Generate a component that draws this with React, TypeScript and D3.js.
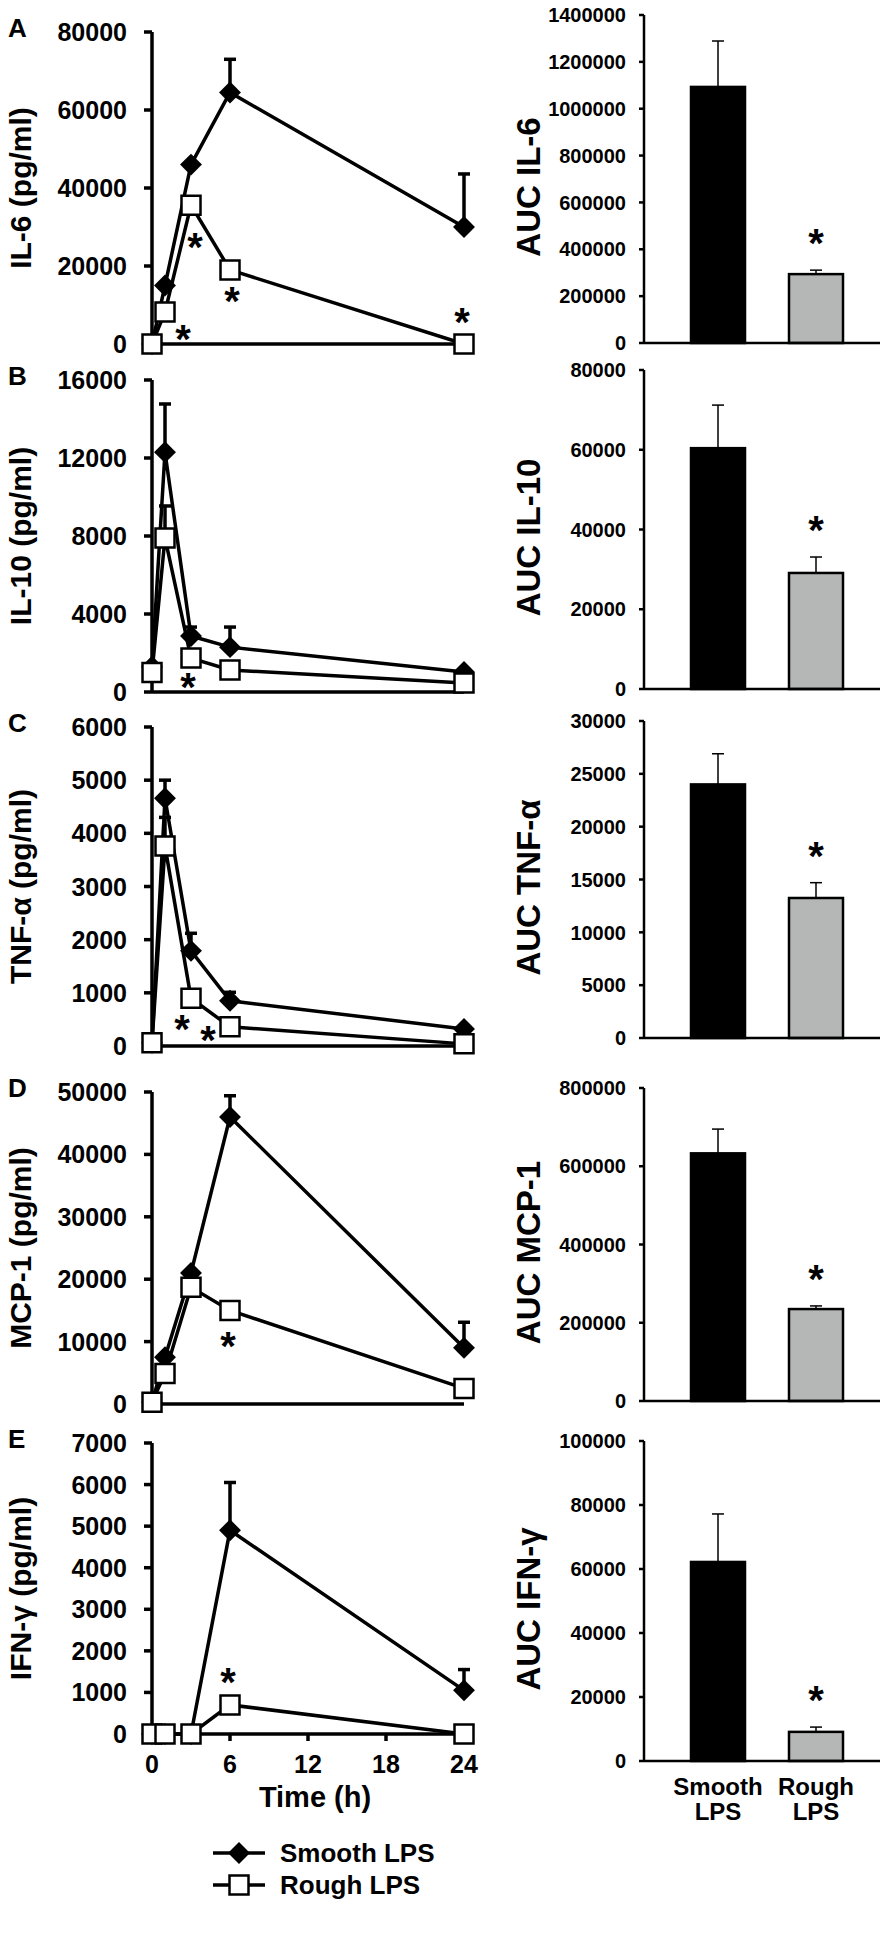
import React from "react";
import * as d3 from "d3";

// sampling times (h)
const times = [0, 1, 3, 6, 24];
const timeTicks = [0, 6, 12, 18, 24];

// time courses: mean and upper SEM, pg/ml
const il6Smooth = [0, 15000, 46000, 64500, 30000];
const il6SmoothErr = [0, 0, 0, 8500, 13600];
const il6Rough = [0, 8200, 35600, 19000, 0];
const il10Smooth = [1300, 12300, 2870, 2300, 1030];
const il10SmoothErr = [0, 2470, 460, 1030, 0];
const il10Rough = [1000, 7900, 1740, 1130, 460];
const il10RoughErr = [0, 1640, 0, 0, 0];
const tnfSmooth = [60, 4660, 1790, 850, 320];
const tnfSmoothErr = [0, 340, 330, 160, 0];
const tnfRough = [60, 3760, 900, 360, 40];
const tnfRoughErr = [0, 540, 0, 0, 0];
const mcpSmooth = [300, 7500, 21000, 46000, 9000];
const mcpSmoothErr = [0, 0, 0, 3400, 4100];
const mcpRough = [300, 4900, 18700, 15000, 2500];
const ifnSmooth = [0, 0, 0, 4900, 1050];
const ifnSmoothErr = [0, 0, 0, 1150, 500];
const ifnRough = [0, 0, 0, 700, 0];
const zeros = [0, 0, 0, 0, 0];

// AUC bars: [smooth, rough] and SEM
const groups = ["Smooth LPS", "Rough LPS"];
const aucIl6 = [1093000, 294000];
const aucIl6Err = [196000, 17000];
const aucIl10 = [60400, 29100];
const aucIl10Err = [10800, 4000];
const aucTnf = [24000, 13250];
const aucTnfErr = [2900, 1450];
const aucMcp = [633000, 235000];
const aucMcpErr = [62000, 8000];
const aucIfn = [62200, 9100];
const aucIfnErr = [15000, 1500];

const panelLetters = ["A", "B", "C", "D", "E"];
const lineTitles = ["IL-6 (pg/ml)", "IL-10 (pg/ml)", "TNF-α (pg/ml)", "MCP-1 (pg/ml)", "IFN-γ (pg/ml)"];
const aucTitles = ["AUC IL-6", "AUC IL-10", "AUC TNF-α", "AUC MCP-1", "AUC IFN-γ"];
const lineMax = [80000, 16000, 6000, 50000, 7000];
const lineStep = [20000, 4000, 1000, 10000, 1000];
const aucMax = [1400000, 80000, 30000, 800000, 100000];
const aucStep = [200000, 20000, 5000, 200000, 20000];

// significance marks on rough LPS points: time index + pixel nudge
const lineStars = [
  [{ k: 1, dx: 18, dy: 18 }, { k: 2, dx: 4, dy: 33 }, { k: 3, dx: 2, dy: 22 }, { k: 4, dx: -2, dy: -31 }],
  [{ k: 2, dx: -3, dy: 20 }],
  [{ k: 2, dx: -9, dy: 22 }, { k: 3, dx: -22, dy: 4 }],
  [{ k: 3, dx: -2, dy: 27 }],
  [{ k: 3, dx: -2, dy: -32 }],
];

const smoothSeries = [il6Smooth, il10Smooth, tnfSmooth, mcpSmooth, ifnSmooth];
const smoothErrs = [il6SmoothErr, il10SmoothErr, tnfSmoothErr, mcpSmoothErr, ifnSmoothErr];
const roughSeries = [il6Rough, il10Rough, tnfRough, mcpRough, ifnRough];
const roughErrs = [zeros, il10RoughErr, tnfRoughErr, zeros, zeros];
const aucValues = [aucIl6, aucIl10, aucTnf, aucMcp, aucIfn];
const aucErrs = [aucIl6Err, aucIl10Err, aucTnfErr, aucMcpErr, aucIfnErr];

const FONT = "'Liberation Sans', Arial, Helvetica, sans-serif";
const W = 892;
const H = 1946;

// panel frames [top tick y, zero y]
const leftFrames = [[32, 344], [380, 692], [727, 1046], [1092, 1404], [1443, 1734]];
const rightFrames = [[15, 343], [370, 689], [721, 1038], [1088, 1401], [1441, 1761]];

const xTime = d3.scaleLinear().domain([0, 24]).range([152, 464]);
const xGroup = d3.scalePoint<string>().domain(groups).range([718, 816]);
const barW = 54;
const aucAxisX = 644;

const diamond = d3.symbol(d3.symbolSquare, 240)() as string;
const square = d3.symbol(d3.symbolSquare, 361)() as string;

const Star = ({ x, y }: { x: number; y: number }) => (
  <text x={x} y={y + 23} textAnchor="middle" fontSize={40} fontWeight="bold" fontFamily={FONT}>
    *
  </text>
);

const LinePanel = ({ i }: { i: number }) => {
  const [top, zero] = leftFrames[i];
  const y = d3.scaleLinear().domain([0, lineMax[i]]).range([zero, top]);
  const ticks = d3.range(0, lineMax[i] + 1, lineStep[i]);
  const line = d3
    .line<number>()
    .x((_, k) => xTime(times[k]))
    .y((d) => y(d));
  const smooth = smoothSeries[i];
  const rough = roughSeries[i];
  const isLast = i === 4;

  const errBars = (vals: number[], errs: number[]) =>
    vals.map((v, k) =>
      errs[k] > 0 ? (
        <g key={`e-${k}`}>
          <line x1={xTime(times[k])} x2={xTime(times[k])} y1={y(v)} y2={y(v + errs[k])} stroke="#000" strokeWidth={3.5} />
          <line x1={xTime(times[k]) - 6} x2={xTime(times[k]) + 6} y1={y(v + errs[k])} y2={y(v + errs[k])} stroke="#000" strokeWidth={3.5} />
        </g>
      ) : null
    );

  return (
    <g fontFamily={FONT} fontWeight="bold">
      <text x={8} y={top + 5} fontSize={26}>
        {panelLetters[i]}
      </text>
      <text transform={`translate(31,${(top + zero) / 2}) rotate(-90)`} textAnchor="middle" fontSize={30}>
        {lineTitles[i]}
      </text>
      {/* y axis */}
      <line x1={xTime(0)} x2={xTime(0)} y1={top} y2={zero} stroke="#000" strokeWidth={3.5} />
      {ticks.map((t) => (
        <g key={t}>
          <line x1={xTime(0) - 8} x2={xTime(0)} y1={y(t)} y2={y(t)} stroke="#000" strokeWidth={3.5} />
          <text x={127} y={y(t)} dy="0.36em" textAnchor="end" fontSize={25}>
            {t}
          </text>
        </g>
      ))}
      {/* x axis */}
      <line x1={xTime(0)} x2={xTime(24)} y1={zero} y2={zero} stroke="#000" strokeWidth={3.5} />
      {isLast &&
        timeTicks.map((t) => (
          <g key={`xt-${t}`}>
            {t > 0 && <line x1={xTime(t)} x2={xTime(t)} y1={zero} y2={zero + 7} stroke="#000" strokeWidth={3.5} />}
            <text x={xTime(t)} y={zero + 39} textAnchor="middle" fontSize={25}>
              {t}
            </text>
          </g>
        ))}
      {isLast && (
        <text x={315} y={zero + 73} textAnchor="middle" fontSize={29}>
          Time (h)
        </text>
      )}
      {/* smooth LPS */}
      {errBars(smooth, smoothErrs[i])}
      <path d={line(smooth) as string} fill="none" stroke="#000" strokeWidth={3.5} />
      {smooth.map((v, k) => (
        <path key={`d-${k}`} d={diamond} transform={`translate(${xTime(times[k])},${y(v)}) rotate(45)`} fill="#000" />
      ))}
      {/* rough LPS */}
      {errBars(rough, roughErrs[i])}
      <path d={line(rough) as string} fill="none" stroke="#000" strokeWidth={3.5} />
      {rough.map((v, k) => (
        <path key={`s-${k}`} d={square} transform={`translate(${xTime(times[k])},${y(v)})`} fill="#fff" stroke="#000" strokeWidth={2.5} />
      ))}
      {lineStars[i].map((s) => (
        <Star key={`st-${s.k}`} x={xTime(times[s.k]) + s.dx} y={y(rough[s.k]) + s.dy} />
      ))}
    </g>
  );
};

const AucPanel = ({ i }: { i: number }) => {
  const [top, zero] = rightFrames[i];
  const y = d3.scaleLinear().domain([0, aucMax[i]]).range([zero, top]);
  const ticks = d3.range(0, aucMax[i] + 1, aucStep[i]);
  const vals = aucValues[i];
  const errs = aucErrs[i];
  return (
    <g fontFamily={FONT} fontWeight="bold">
      <text transform={`translate(540,${(top + zero) / 2 + 8}) rotate(-90)`} textAnchor="middle" fontSize={33}>
        {aucTitles[i]}
      </text>
      <line x1={aucAxisX} x2={aucAxisX} y1={top} y2={zero} stroke="#000" strokeWidth={2.5} />
      {ticks.map((t) => (
        <g key={t}>
          <line x1={aucAxisX - 5} x2={aucAxisX} y1={y(t)} y2={y(t)} stroke="#000" strokeWidth={2.5} />
          <text x={626} y={y(t)} dy="0.36em" textAnchor="end" fontSize={20}>
            {t}
          </text>
        </g>
      ))}
      {groups.map((g, k) => {
        const cx = xGroup(g) as number;
        return (
          <g key={g}>
            <line x1={cx} x2={cx} y1={y(vals[k])} y2={y(vals[k] + errs[k])} stroke="#000" strokeWidth={1.5} />
            <line x1={cx - 6} x2={cx + 6} y1={y(vals[k] + errs[k])} y2={y(vals[k] + errs[k])} stroke="#000" strokeWidth={1.5} />
            <rect
              x={cx - barW / 2}
              y={y(vals[k])}
              width={barW}
              height={zero - y(vals[k])}
              fill={k === 0 ? "#000" : "#b5b7b7"}
              stroke="#000"
              strokeWidth={2.5}
            />
          </g>
        );
      })}
      <Star x={xGroup(groups[1]) as number} y={y(vals[1] + errs[1]) - 36} />
      <line x1={aucAxisX} x2={880} y1={zero} y2={zero} stroke="#000" strokeWidth={2.5} />
      {i === 4 &&
        groups.map((g) => (
          <text key={`gl-${g}`} x={xGroup(g) as number} textAnchor="middle" fontSize={24}>
            {g.split(" ").map((w, j) => (
              <tspan key={w} x={xGroup(g) as number} y={zero + 34 + j * 25}>
                {w}
              </tspan>
            ))}
          </text>
        ))}
    </g>
  );
};

const Legend = () => {
  const lx = [213, 265];
  const rows = [
    { label: groups[0], y: 1853, marker: "d" },
    { label: groups[1], y: 1885, marker: "s" },
  ];
  return (
    <g fontFamily={FONT} fontWeight="bold">
      {rows.map((r) => (
        <g key={r.label}>
          <line x1={lx[0]} x2={lx[1]} y1={r.y} y2={r.y} stroke="#000" strokeWidth={3.5} />
          {r.marker === "d" ? (
            <path d={diamond} transform={`translate(239,${r.y}) rotate(45)`} fill="#000" />
          ) : (
            <path d={square} transform={`translate(239,${r.y})`} fill="#fff" stroke="#000" strokeWidth={2.5} />
          )}
          <text x={280} y={r.y} dy="0.36em" fontSize={26}>
            {r.label}
          </text>
        </g>
      ))}
    </g>
  );
};

export default function App() {
  return (
    <svg
      width={W}
      height={H}
      viewBox={`0 0 ${W} ${H}`}
      style={{ position: "absolute", left: 0, top: 0, background: "#fff" }}
    >
      <rect width={W} height={H} fill="#fff" />
      {panelLetters.map((_, i) => (
        <g key={i}>
          <LinePanel i={i} />
          <AucPanel i={i} />
        </g>
      ))}
      <Legend />
    </svg>
  );
}
